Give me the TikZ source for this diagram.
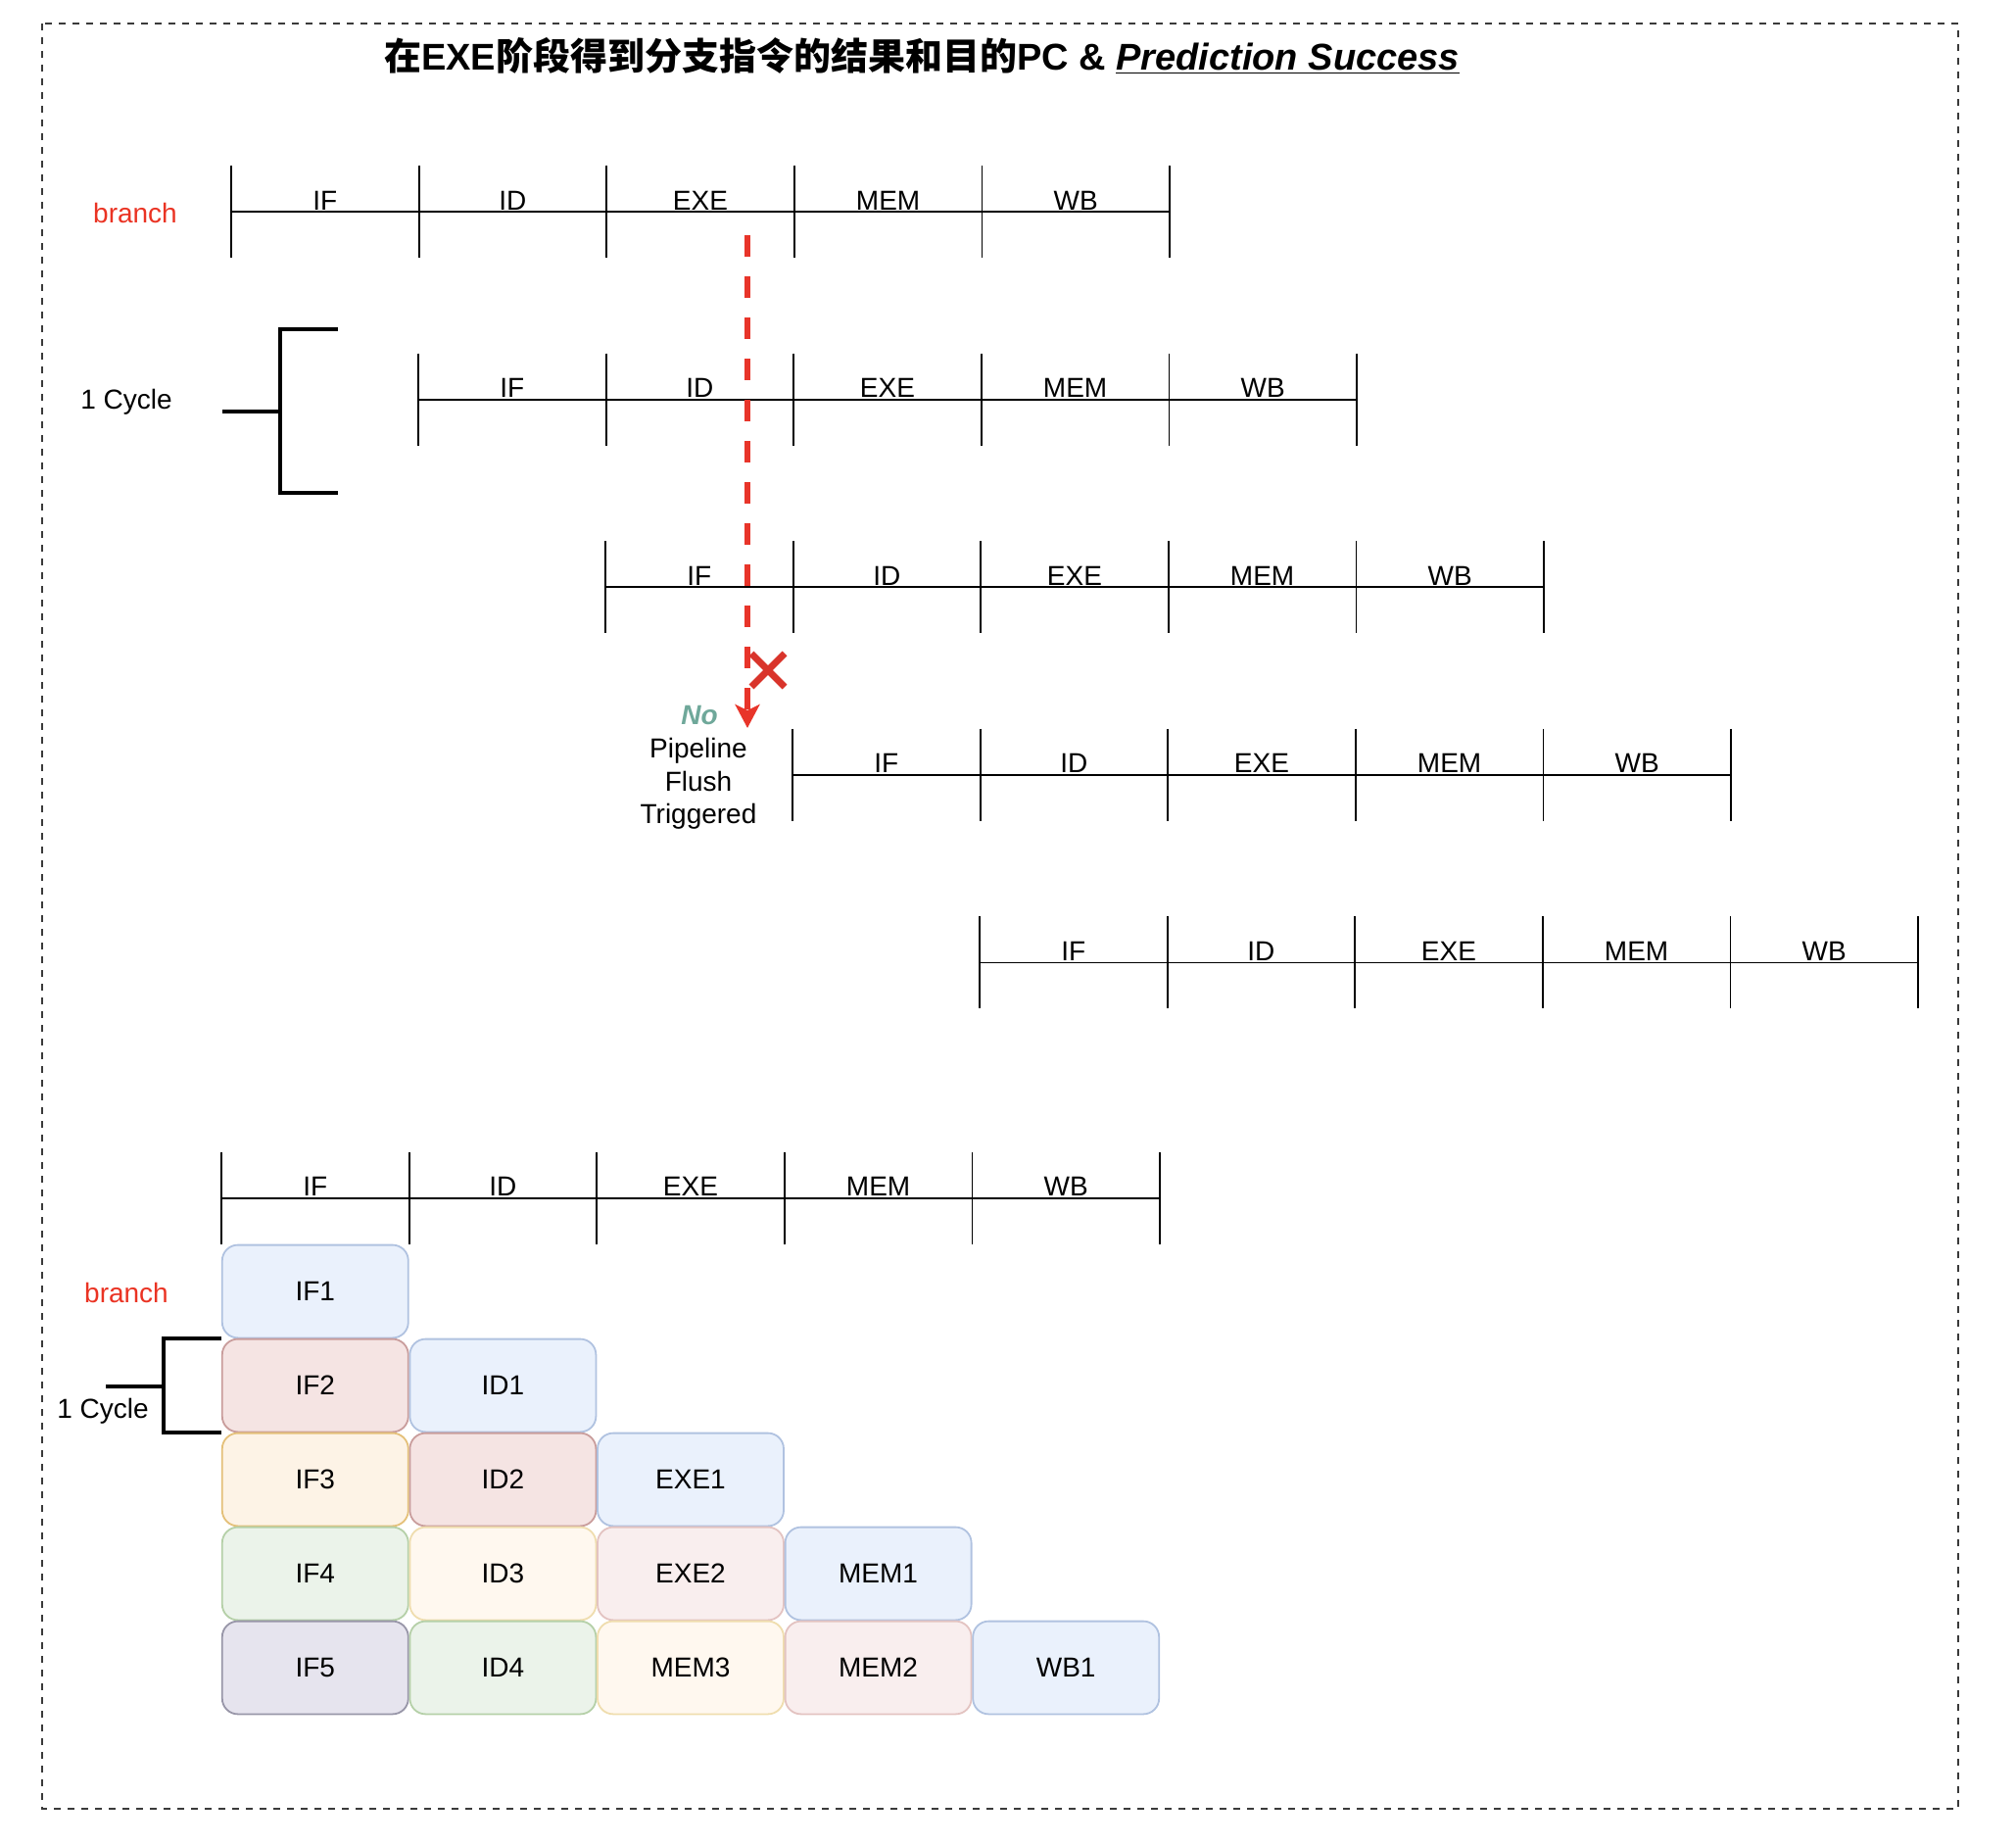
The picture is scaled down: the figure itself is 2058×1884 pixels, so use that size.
\documentclass[tikz,border=0pt]{standalone}
\usepackage{fontspec}
\setmainfont{Liberation Sans}
\newfontfamily\cjkfont{Noto Sans CJK SC}
\usepackage{tikz}
\usepackage{xcolor}
\usetikzlibrary{positioning, arrows.meta, calc}
\definecolor{cBranch}   {HTML}{EA3323}
\definecolor{cArrow}    {HTML}{E8352A}
\definecolor{cCross}    {HTML}{D9342B}
\definecolor{cNo}       {HTML}{6FA89A}
\definecolor{cFrame}    {HTML}{3A3A3A}
\definecolor{cBlueFill} {HTML}{EAF1FC}
\definecolor{cBlueLine} {HTML}{B0C2E0}
\definecolor{cRedFill}  {HTML}{F5E4E3}
\definecolor{cRedLine}  {HTML}{C99D9C}
\definecolor{cRedFillB} {HTML}{F9EEEE}
\definecolor{cRedLineB} {HTML}{E3C3C1}
\definecolor{cYelFill}  {HTML}{FDF3E6}
\definecolor{cYelLine}  {HTML}{E4C079}
\definecolor{cYelFillB} {HTML}{FFF8EF}
\definecolor{cYelLineB} {HTML}{EFDDAE}
\definecolor{cGrnFill}  {HTML}{EBF3EA}
\definecolor{cGrnLine}  {HTML}{B5D0A8}
\definecolor{cPurFill}  {HTML}{E6E4EE}
\definecolor{cPurLine}  {HTML}{9896A8}
\tikzset{
  lbl/.style={font=\fontsize{14}{16.8}\selectfont},
  stagelbl/.style={lbl, anchor=base, inner sep=0pt},
  cellbox/.style={lbl, draw, line width=0.9pt, rounded corners=8pt,
    minimum width=95pt, minimum height=47.4pt, inner sep=0pt},
  pipe/.style={line width=0.9pt},
  bracket/.style={line width=2.3pt},
}

\begin{document}
\begin{tikzpicture}[x=0.5pt, y=-0.5pt]
        \useasboundingbox (0, 0) rectangle (2058, 1884);
        \draw[cFrame, line width=1.2pt, dash pattern=on 3.5pt off 3.5pt] (43, 24) rectangle (1999, 1846);
        \node[font=\fontsize{19}{22}\selectfont\bfseries] (title) at (941, 57)
              {{\cjkfont 在}EXE{\cjkfont 阶段得到分支指令的结果和目的}PC \& \underline{\textit{Prediction Success}}};
        % five shifted pipelines
        \foreach \r in {0,...,4} {
          \pgfmathsetmacro\xs{236+191*\r}
          \pgfmathsetmacro\ys{216+191.6*\r}
          \draw[pipe] (\xs, \ys) -- ++(958, 0);
          \foreach \k in {0,...,5}
            \draw[pipe] ({\xs+191.6*\k}, {\ys-47}) -- ++(0, 94);
          \foreach \s [count=\k from 0] in {IF,ID,EXE,MEM,WB}
            \node[stagelbl] (row\r-\s) at ({\xs+191.6*\k+95.8}, {\ys-2}) {\s};
        }
        \node[lbl, text=cBranch] (branchTop) at (138, 217) {branch};
        \node[lbl] (cycleTop) at (129, 410) {1 Cycle};
        \draw[bracket] (227, 420) -- (286, 420);
        \draw[bracket] (345, 336) -- (286, 336) -- (286, 503) -- (345, 503);
        \coordinate (flushTop) at (763, 240);
        \coordinate (flushEnd) at (763, 743);
        \draw[cArrow, line width=3.3pt, dash pattern=on 11pt off 10pt,
              -{Stealth[length=12pt, width=12.5pt, inset=3pt]}] (flushTop) -- (flushEnd);
        \draw[cCross, line width=3.5pt] (767, 667) -- (801, 701) (767, 701) -- (801, 667);
        \node[lbl, font=\fontsize{14}{16.8}\selectfont\bfseries\itshape, text=cNo] (noFlush) at (714, 730) {No};
        \node[lbl, align=center] (flushText) at (713, 800) {Pipeline\\Flush\\Triggered};
        % stage header and cells
        \draw[pipe] (226, 1223) -- ++(958, 0);
        \foreach \k in {0,...,5}
          \draw[pipe] ({226+191.6*\k}, 1176) -- ++(0, 94);
        \foreach \s [count=\k from 0] in {IF,ID,EXE,MEM,WB}
          \node[stagelbl] (hdr-\s) at ({226+191.6*\k+95.8}, 1220) {\s};
        \foreach \r/\c/\t/\f/\l in {
            0/0/IF1/cBlueFill/cBlueLine,
            1/0/IF2/cRedFill/cRedLine, 1/1/ID1/cBlueFill/cBlueLine,
            2/0/IF3/cYelFill/cYelLine, 2/1/ID2/cRedFill/cRedLine, 2/2/EXE1/cBlueFill/cBlueLine,
            3/0/IF4/cGrnFill/cGrnLine, 3/1/ID3/cYelFillB/cYelLineB, 3/2/EXE2/cRedFillB/cRedLineB, 3/3/MEM1/cBlueFill/cBlueLine,
            4/0/IF5/cPurFill/cPurLine, 4/1/ID4/cGrnFill/cGrnLine, 4/2/MEM3/cYelFillB/cYelLineB,
            4/3/MEM2/cRedFillB/cRedLineB, 4/4/WB1/cBlueFill/cBlueLine}
          \node[cellbox, fill=\f, draw=\l] (cell-\t) at ({226+191.6*\c+95.8}, {1270+96*\r+48}) {\t};
        \node[lbl, text=cBranch] (branchLow) at (129, 1319) {branch};
        \node[lbl] (cycleLow) at (105, 1440) {1 Cycle};
        \draw[bracket] (108, 1415) -- (167, 1415);
        \draw[bracket] (226, 1366) -- (167, 1366) -- (167, 1462) -- (226, 1462);
      \end{tikzpicture}
\end{document}
